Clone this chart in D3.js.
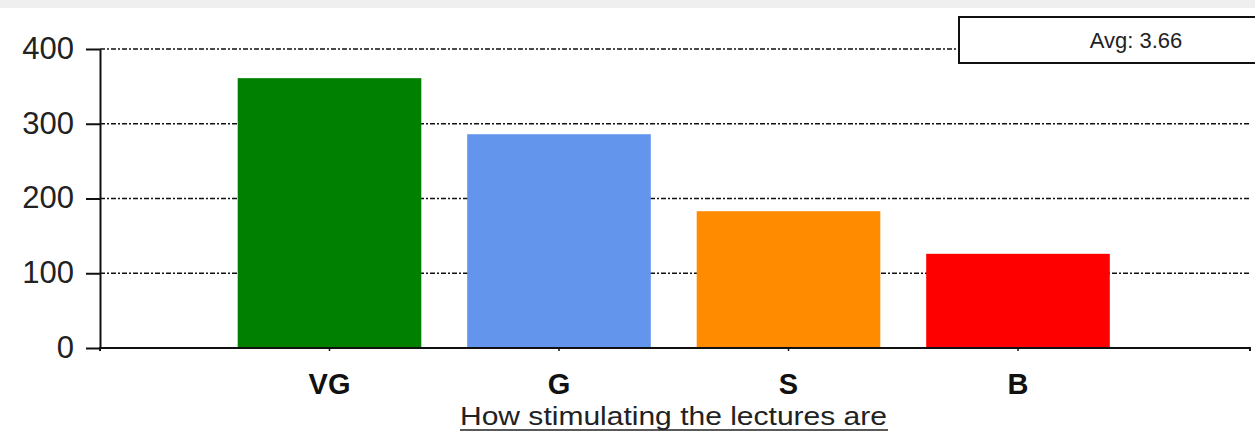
<!DOCTYPE html>
<html><head><meta charset="utf-8">
<script src="https://cdn.jsdelivr.net/npm/d3@7"></script>
<style>body{margin:0;background:#fff;overflow:hidden}svg{display:block}</style>
</head><body>
<svg id="c" width="1255" height="433"></svg>
<script>
const categories = ["VG", "G", "S", "B"];
const values = [361, 286, 183, 126];
const barColors = ["#008000", "#6495ED", "#FF8C00", "#FF0000"];
const yTicks = [0, 100, 200, 300, 400];
const avgLabel = "Avg: 3.66";
const axisTitle = "How stimulating the lectures are";

(function () {
const svg = d3.select("#c");
svg.append("rect").attr("x", 0).attr("y", 0).attr("width", 1255).attr("height", 8).attr("fill", "#efefef");

const pLeft = 100, pRight = 1250, pTop = 49, pBottom = 348;
const slot = 229.5;
const x = d3.scaleBand().domain(categories)
  .range([pLeft + slot / 2, pLeft + slot * 4.5]).paddingInner(0.2).paddingOuter(0.1);
const y = d3.scaleLinear().domain([0, 400]).range([pBottom, pTop]);

// gridlines
svg.append("g").selectAll("line").data(yTicks.filter(d => d > 0)).join("line")
  .attr("x1", pLeft).attr("x2", pRight)
  .attr("y1", d => y(d)).attr("y2", d => y(d))
  .attr("stroke", "#111").attr("stroke-width", 1.6)
  .attr("stroke-dasharray", "5,2,2,2");

// bars
svg.append("g").selectAll("rect").data(categories).join("rect")
  .attr("x", d => x(d)).attr("width", x.bandwidth())
  .attr("y", (d, i) => y(values[i])).attr("height", (d, i) => pBottom - y(values[i]))
  .attr("fill", (d, i) => barColors[i]);

// y axis
const ya = svg.append("g").attr("transform", `translate(${pLeft},0)`)
  .call(d3.axisLeft(y).tickValues(yTicks).tickSize(14).tickPadding(12).tickSizeOuter(0));
ya.select(".domain").attr("stroke", "#111").attr("stroke-width", 2);
ya.selectAll(".tick line").attr("stroke", "#111").attr("stroke-width", 2);
ya.selectAll("text").attr("font-family", "Liberation Sans, Arial, sans-serif")
  .attr("font-size", 31).attr("fill", "#222").attr("dy", "0.3em");

// x axis
const xa = svg.append("g").attr("transform", `translate(0,${pBottom})`)
  .call(d3.axisBottom(x).tickSize(3).tickPadding(22).tickSizeOuter(0));
xa.select(".domain").remove();
xa.selectAll(".tick line").attr("stroke", "#111").attr("stroke-width", 1.5);
xa.selectAll("text").attr("font-family", "Liberation Sans, Arial, sans-serif")
  .attr("font-size", 29).attr("font-weight", "bold").attr("fill", "#111").attr("dy", "0.71em");
svg.append("path").attr("d", `M${pLeft},${pBottom + 3}V${pBottom}H${pRight}V${pBottom + 3}`)
  .attr("fill", "none").attr("stroke", "#111").attr("stroke-width", 2);

// axis title
svg.append("text").attr("x", 460).attr("y", 425).text(axisTitle)
  .attr("font-family", "Liberation Sans, Arial, sans-serif").attr("font-size", 26)
  .attr("fill", "#222").attr("textLength", 427).attr("lengthAdjust", "spacingAndGlyphs");
svg.append("line").attr("x1", 460).attr("x2", 888).attr("y1", 430).attr("y2", 430)
  .attr("stroke", "#222").attr("stroke-width", 1.5);

// avg box
svg.append("rect").attr("x", 959).attr("y", 17).attr("width", 320).attr("height", 46)
  .attr("fill", "#fff").attr("stroke", "#111").attr("stroke-width", 2);
svg.append("text").attr("x", 1136).attr("y", 48).attr("text-anchor", "middle").text(avgLabel)
  .attr("font-family", "Liberation Sans, Arial, sans-serif").attr("font-size", 22).attr("fill", "#222");
})();
</script>
</body></html>
